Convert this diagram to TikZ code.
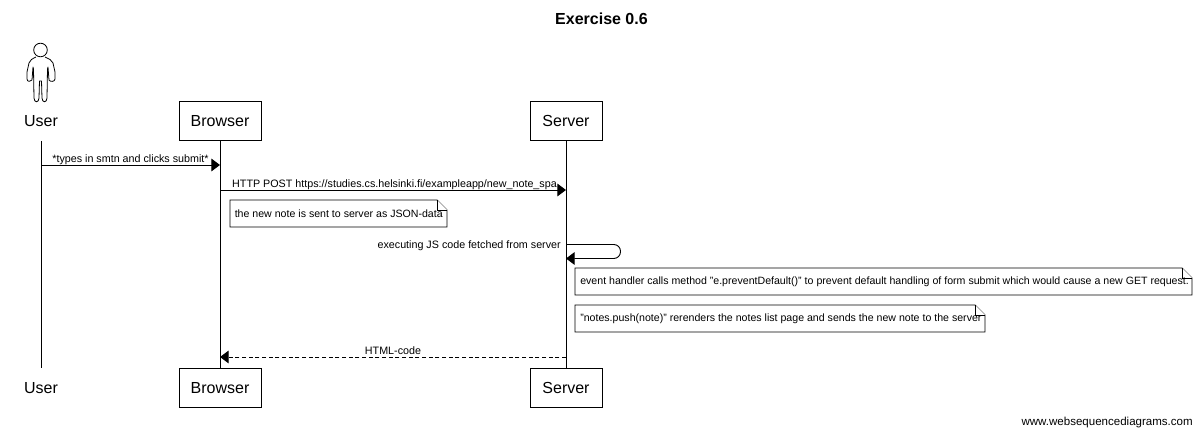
\documentclass[tikz,border=0pt]{standalone}
\usepackage{fontspec}
\setmainfont{Liberation Sans}
\usetikzlibrary{arrows.meta}
\tikzset{
  x=0.75pt,y=-0.75pt,
  actorbox/.style={draw=black,line width=0.6pt,fill=white,font=\fontsize{12}{14}\selectfont,minimum height=29.5pt,inner sep=0pt,anchor=center},
  plainname/.style={font=\fontsize{12}{14}\selectfont,inner sep=0pt},
  lifeline/.style={draw=black,line width=0.7pt},
  msg/.style={draw=black,line width=0.7pt,-{Triangle[length=6.5pt,width=9.5pt]}},
  msgtext/.style={font=\fontsize{8.05}{10}\selectfont,inner sep=0pt,anchor=base},
  notetext/.style={font=\fontsize{7.95}{10}\selectfont,inner sep=0pt,anchor=west},
  noteshape/.style={draw=black,line width=0.6pt,fill=white,line join=miter},
}
\newcommand{\notebox}[4]{% left, top, right, bottom
  \draw[noteshape] (#1,#2) -- (#3-10,#2) -- (#3,#2+10) -- (#3,#4) -- (#1,#4) -- cycle;
  \draw[noteshape,line width=0.4pt] (#3-10,#2) -- (#3-10,#2+10) -- (#3,#2+10);
}
\begin{document}
\begin{tikzpicture}
\useasboundingbox (0,0) rectangle (1200,434);
\fill[white] (0,0) rectangle (1200,434);
\node[font=\bfseries\fontsize{12}{14}\selectfont,inner sep=0pt] (title) at (601.5,19) {Exercise 0.6};
% actor figure
\draw[line width=0.6pt] (40.5,50) circle (6.8);
\draw[line width=0.6pt,line join=round]
  (36,57) .. controls (32,59) and (30,60) .. (29,63)
  -- (27,72) -- (27,79) .. controls (27,82) and (31,82) .. (32,80)
  -- (33,67) -- (33.5,69) -- (34,98) .. controls (34,103) and (39,103) .. (39,98)
  -- (39.5,81) -- (41.5,81) -- (42,98) .. controls (42,103) and (47,103) .. (47,98)
  -- (47.5,69) -- (48,67) -- (49,80) .. controls (50,82) and (55,82) .. (55,79)
  -- (55,72) -- (53,63) .. controls (52,60) and (49,59) .. (45,57);
% lifeline ends
\node[plainname] (usertop) at (41,121) {User};
\node[plainname] (userbot) at (41,388) {User};
\node[actorbox,minimum width=61.5pt] (browsertop) at (220,121) {Browser};
\node[actorbox,minimum width=54pt] (servertop) at (566,121) {Server};
\node[actorbox,minimum width=61.5pt] (browserbot) at (220,388) {Browser};
\node[actorbox,minimum width=54pt] (serverbot) at (566,388) {Server};
\coordinate (ultop) at (41,141);
\coordinate (ulbot) at (41,368);
\draw[lifeline] (ultop) -- (ulbot);
\draw[lifeline] (browsertop) -- (browserbot);
\draw[lifeline] (servertop) -- (serverbot);
% messages
\coordinate (m1a) at (41,165); \coordinate (m1b) at (220,165);
\draw[msg] (m1a) -- (m1b);
\node[msgtext] (m1t) at (130.5,163) {*types in smtn and clicks submit*};
\coordinate (m2a) at (220,190); \coordinate (m2b) at (566,190);
\draw[msg] (m2a) -- (m2b);
\node[msgtext] (m2t) at (394.5,188) {HTTP POST https://studies.cs.helsinki.fi/exampleapp/new\_note\_spa};
\notebox{230}{200}{447}{227}
\node[notetext] (n1) at (234.5,214) {the new note is sent to server as JSON-data};
\coordinate (s1) at (566,244.5); \coordinate (s2) at (566,258.5);
\draw[msg,rounded corners=5pt] (s1) -- (620.5,244.5) -- (620.5,258.5) -- (s2);
\node[msgtext,anchor=base east] (st) at (561,248.5) {executing JS code fetched from server};
\notebox{575}{268}{1192}{295}
\node[notetext] (n2) at (580,282) {event handler calls method "e.preventDefault()" to prevent default handling of form submit which would cause a new GET request.};
\notebox{575}{305}{985}{332}
\node[notetext] (n3) at (580,319) {"notes.push(note)" rerenders the notes list page and sends the new note to the server};
\coordinate (r1) at (566,357); \coordinate (r2) at (220,357);
\draw[msg,dashed,dash pattern=on 3pt off 2pt] (r1) -- (r2);
\node[msgtext] (rt) at (393,355) {HTML-code};
\node[font=\fontsize{8.65}{11}\selectfont,inner sep=0pt,anchor=base east] (wm) at (1193,426) {www.websequencediagrams.com};
\end{tikzpicture}
\end{document}
